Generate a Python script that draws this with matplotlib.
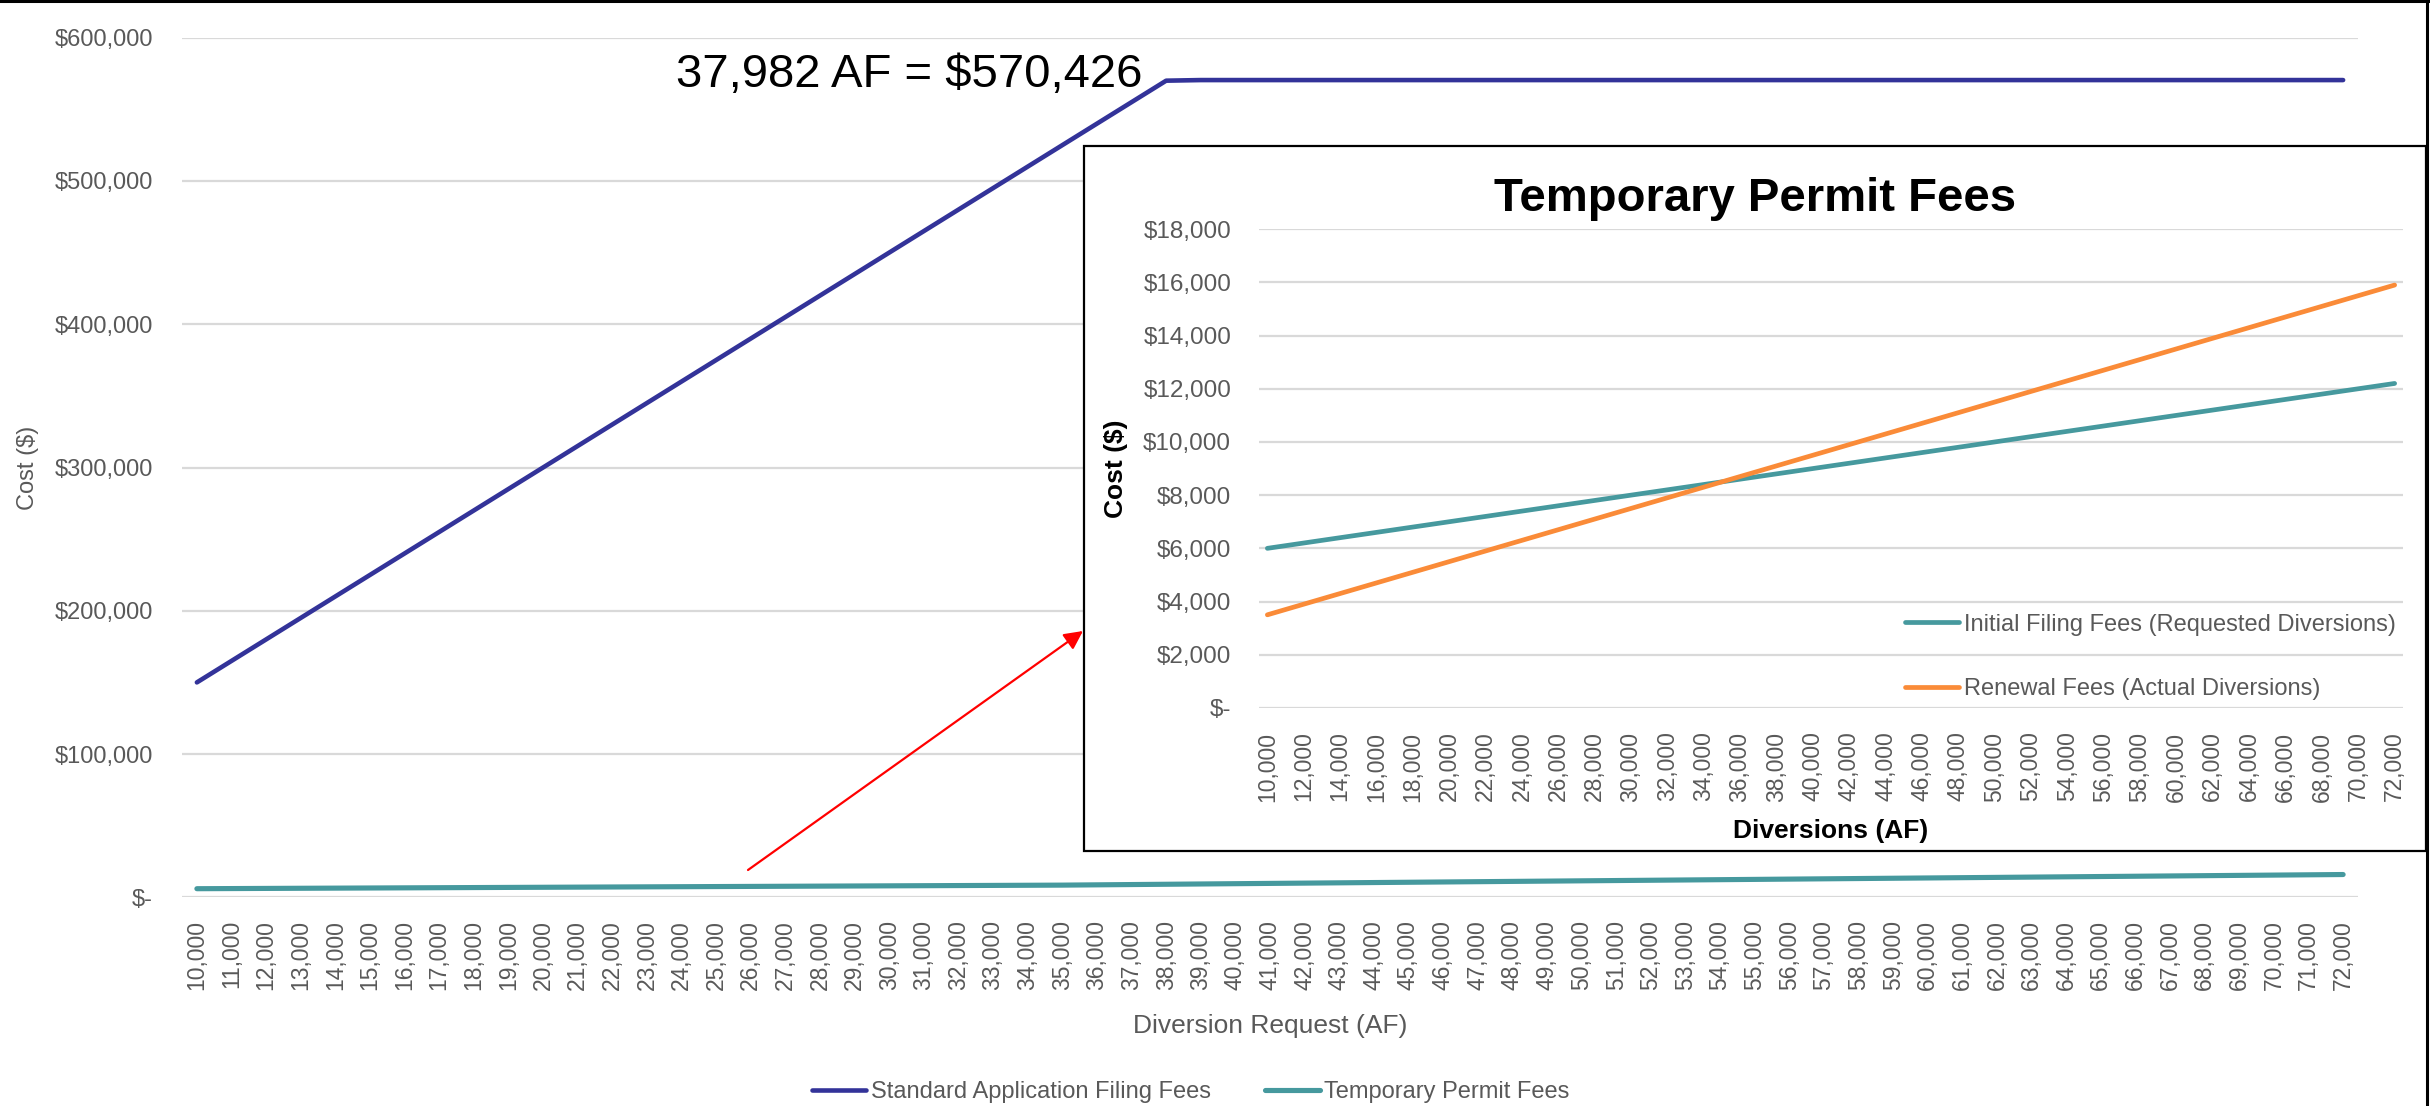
import numpy as np
import matplotlib
matplotlib.use("Agg")
import matplotlib.pyplot as plt
from matplotlib.ticker import FuncFormatter
from matplotlib.patches import Rectangle, FancyArrowPatch
from matplotlib.lines import Line2D

plt.rcParams['font.family'] = ['Liberation Sans', 'DejaVu Sans']

# ---------------- data ----------------
main_categories = list(range(10000, 72001, 1000))
standard_fees = [150000, 165000, 180000, 195000, 210000, 225000, 240000, 255000,
                 270000, 285000, 300000, 315000, 330000, 345000, 360000, 375000,
                 390000, 405000, 420000, 435000, 450000, 465000, 480000, 495000,
                 510000, 525000, 540000, 555000, 570000,
                 570426, 570426, 570426, 570426, 570426, 570426, 570426, 570426,
                 570426, 570426, 570426, 570426, 570426, 570426, 570426, 570426,
                 570426, 570426, 570426, 570426, 570426, 570426, 570426, 570426,
                 570426, 570426, 570426, 570426, 570426, 570426, 570426, 570426,
                 570426, 570426]
temporary_fees = [6000, 6100, 6200, 6300, 6400, 6500, 6600, 6700, 6800, 6900,
                  7000, 7100, 7200, 7300, 7400, 7500, 7600, 7700, 7800, 7900,
                  8000, 8100, 8200, 8300, 8400, 8500,
                  8700, 8900, 9100, 9300, 9500, 9700, 9900, 10100, 10300, 10500,
                  10700, 10900, 11100, 11300, 11500, 11700, 11900, 12100, 12300,
                  12500, 12700, 12900, 13100, 13300, 13500, 13700, 13900, 14100,
                  14300, 14500, 14700, 14900, 15100, 15300, 15500, 15700, 15900]

inset_categories = list(range(10000, 72001, 2000))
initial_fees = [6000, 6200, 6400, 6600, 6800, 7000, 7200, 7400, 7600, 7800,
                8000, 8200, 8400, 8600, 8800, 9000, 9200, 9400, 9600, 9800,
                10000, 10200, 10400, 10600, 10800, 11000, 11200, 11400, 11600,
                11800, 12000, 12200]
renewal_fees = [3500, 3900, 4300, 4700, 5100, 5500, 5900, 6300, 6700, 7100,
                7500, 7900, 8300, 8700, 9100, 9500, 9900, 10300, 10700, 11100,
                11500, 11900, 12300, 12700, 13100, 13500, 13900, 14300, 14700,
                15100, 15500, 15900]

NAVY = '#333399'
TEAL = '#46999E'
ORANGE = '#FA8B38'
GRID = '#D9D9D9'
GRAY = '#595959'

W, H = 2430, 1106
fig = plt.figure(figsize=(W / 100, H / 100), dpi=100)


def fx(px):
    return px / W


def fy(py):
    return 1 - py / H


def money(v, p):
    return '$-' if v == 0 else f'${v:,.0f}'


# ---------------- main chart ----------------
ax = fig.add_axes([fx(182), fy(897.3), fx(2358) - fx(182), fy(37.7) - fy(897.3)], zorder=0)
xm = np.arange(len(main_categories))
l1, = ax.plot(xm, standard_fees, color=NAVY, lw=3.3, solid_capstyle='round',
              solid_joinstyle='round', label='Standard Application Filing Fees')
l2, = ax.plot(xm, temporary_fees, color=TEAL, lw=3.7, solid_capstyle='round',
              solid_joinstyle='round', label='Temporary Permit Fees')
ax.set_xlim(-0.43, len(main_categories) - 1 + 0.43)
ax.set_ylim(0, 600000)
ax.set_yticks(np.arange(0, 600001, 100000))
ax.yaxis.set_major_formatter(FuncFormatter(money))
ax.set_xticks(xm)
ax.set_xticklabels([f'{c:,}' for c in main_categories], rotation=90)
ax.tick_params(axis='x', length=0, pad=16.5, labelsize=16.5, labelcolor=GRAY)
ax.tick_params(axis='y', length=0, pad=21, labelsize=17, labelcolor=GRAY)
ax.grid(axis='y', color=GRID, lw=1.6)
ax.set_axisbelow(True)
for s in ax.spines.values():
    s.set_visible(False)
ax.set_xlabel('Diversion Request (AF)', fontsize=19, color=GRAY)
ax.xaxis.set_label_coords(0.5, -0.136)
ax.set_ylabel('Cost ($)', fontsize=17, color=GRAY)
ax.yaxis.set_label_coords(-0.0655, 0.5)

fig.legend(handles=[l1, l2], loc='center', bbox_to_anchor=(fx(1191), fy(1092)),
           ncol=2, frameon=False, fontsize=17, handlelength=2.3,
           handletextpad=0.2, columnspacing=2.3, labelcolor=GRAY)

fig.text(fx(1142), fy(87), '37,982 AF = $570,426', ha='right', va='baseline',
         fontsize=34, color='black')

# ---------------- inset frame ----------------
rect = Rectangle((fx(1084), fy(851)), fx(2426) - fx(1084), fy(146) - fy(851),
                 transform=fig.transFigure, facecolor='white', edgecolor='black',
                 lw=1.6, zorder=1)
fig.add_artist(rect)

arrow = FancyArrowPatch((fx(748), fy(870)), (fx(1083), fy(631)),
                        transform=fig.transFigure, arrowstyle='-|>',
                        mutation_scale=28, color='#FF0000', lw=1.6, zorder=1.5,
                        shrinkA=0, shrinkB=0)
fig.add_artist(arrow)

# ---------------- inset chart ----------------
ax2 = fig.add_axes([fx(1259), fy(707.9), fx(2403) - fx(1259), fy(229.2) - fy(707.9)], zorder=2)
ax2.patch.set_alpha(0)
xi = np.arange(len(inset_categories))
i1, = ax2.plot(xi, initial_fees, color=TEAL, lw=3.4, solid_capstyle='round',
               label='Initial Filing Fees (Requested Diversions)')
i2, = ax2.plot(xi, renewal_fees, color=ORANGE, lw=3.4, solid_capstyle='round',
               label='Renewal Fees (Actual Diversions)')
ax2.set_xlim(-0.23, len(inset_categories) - 1 + 0.23)
ax2.set_ylim(0, 18000)
ax2.set_yticks(np.arange(0, 18001, 2000))
ax2.yaxis.set_major_formatter(FuncFormatter(money))
ax2.set_xticks(xi)
ax2.set_xticklabels([f'{c:,}' for c in inset_categories], rotation=90)
ax2.tick_params(axis='x', length=0, pad=17, labelsize=16.5, labelcolor=GRAY)
ax2.tick_params(axis='y', length=0, pad=20, labelsize=17.5, labelcolor=GRAY)
ax2.grid(axis='y', color=GRID, lw=1.6)
ax2.set_axisbelow(True)
for s in ax2.spines.values():
    s.set_visible(False)
ax2.set_xlabel('Diversions (AF)', fontsize=19, fontweight='bold', color='black')
ax2.xaxis.set_label_coords(0.5, -0.232)
ax2.set_ylabel('Cost ($)', fontsize=19, fontweight='bold', color='black')
ax2.yaxis.set_label_coords(-0.1145, 0.5)

ax2.legend(handles=[i1, i2], loc='center left', bbox_to_anchor=(fx(1893), fy(657)),
           bbox_transform=fig.transFigure, frameon=False, fontsize=17,
           handlelength=2.3, handletextpad=0.2, labelspacing=1.8, borderpad=0,
           labelcolor=GRAY)

fig.text(fx(1755), fy(211), 'Temporary Permit Fees', ha='center', va='baseline',
         fontsize=34, fontweight='bold', color='black', zorder=3)

# ---------------- outer border (top & right) ----------------
fig.add_artist(Line2D([0, 1], [fy(1.2), fy(1.2)], transform=fig.transFigure,
                      color='black', lw=2.2, zorder=4))
fig.add_artist(Line2D([fx(2426.5), fx(2426.5)], [0, 1], transform=fig.transFigure,
                      color='black', lw=2.2, zorder=4))

fig.savefig('out.png', dpi=100)
